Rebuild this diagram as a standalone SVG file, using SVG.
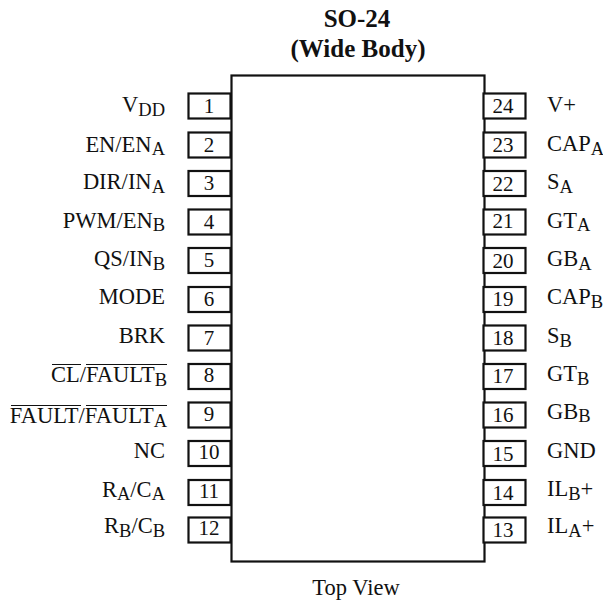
<svg xmlns="http://www.w3.org/2000/svg" width="603" height="603" viewBox="0 0 603 603">
<style>
text{font-family:"Liberation Serif","Times New Roman",serif;font-size:22.500px;fill:#111}
.l{text-anchor:end}.c{text-anchor:middle}
.t{font-weight:bold;font-size:25px;text-anchor:middle}
.n{font-size:21px;text-anchor:middle}
.s{font-size:18.500px}
.b{fill:#fff;stroke:#111;stroke-width:2.2}
.o{stroke:#111;stroke-width:1;fill:none}
</style>
<defs><rect id="p" class="b" x="0" y="0" width="42" height="25"/></defs>
<text class="t" x="357" y="26.500">SO-24</text>
<text class="t" x="358" y="56.500">(Wide Body)</text>
<g id="body"><rect class="b" x="231.500" y="75.500" width="253" height="486"/></g>
<g id="pin1"><use href="#p" x="188.500" y="93.500"/><text class="n" x="209" y="113">1</text><text class="l" x="165" y="112">V<tspan class="s" dy="3.500">DD</tspan></text></g>
<g id="pin2"><use href="#p" x="188.500" y="132.500"/><text class="n" x="209" y="152">2</text><text class="l" x="165" y="151.500">EN/EN<tspan class="s" dy="3.500">A</tspan></text></g>
<g id="pin3"><use href="#p" x="188.500" y="171"/><text class="n" x="209" y="190">3</text><text class="l" x="165" y="189">DIR/IN<tspan class="s" dy="3.500">A</tspan></text></g>
<g id="pin4"><use href="#p" x="188.500" y="209.500"/><text class="n" x="209" y="229">4</text><text class="l" x="165" y="227.500">PWM/EN<tspan class="s" dy="3.500">B</tspan></text></g>
<g id="pin5"><use href="#p" x="188.500" y="248"/><text class="n" x="209" y="267">5</text><text class="l" x="165" y="266">QS/IN<tspan class="s" dy="3.500">B</tspan></text></g>
<g id="pin6"><use href="#p" x="188.500" y="287"/><text class="n" x="209" y="306">6</text><text class="l" x="165" y="304">MODE</text></g>
<g id="pin7"><use href="#p" x="188.500" y="325.500"/><text class="n" x="209" y="344.500">7</text><text class="l" x="165" y="343">BRK</text></g>
<g id="pin8"><use href="#p" x="188.500" y="364"/><text class="n" x="209" y="382">8</text><text class="l" x="167" y="382">CL/FAULT<tspan class="s" dy="3.500">B</tspan></text><path class="o" d="M52 364.500H81M86 364.500H167"/></g>
<g id="pin9"><use href="#p" x="188.500" y="402.500"/><text class="n" x="209" y="421">9</text><text class="l" x="167" y="423">FAULT/FAULT<tspan class="s" dy="3.500">A</tspan></text><path class="o" d="M11 405.500H81M86 405.500H167"/></g>
<g id="pin10"><use href="#p" x="188.500" y="441"/><text class="n" x="209" y="459">10</text><text class="l" x="165" y="458">NC</text></g>
<g id="pin11"><use href="#p" x="188.500" y="480"/><text class="n" x="209" y="497.500">11</text><text class="l" x="165" y="496.500">R<tspan class="s" dy="3.500">A</tspan><tspan dy="-3.500">/C</tspan><tspan class="s" dy="3.500">A</tspan></text></g>
<g id="pin12"><use href="#p" x="188.500" y="517.500"/><text class="n" x="209" y="535">12</text><text class="l" x="165" y="533">R<tspan class="s" dy="3.500">B</tspan><tspan dy="-3.500">/C</tspan><tspan class="s" dy="3.500">B</tspan></text></g>
<g id="pin24"><use href="#p" x="483.500" y="93.500"/><text class="n" x="503" y="113">24</text><text x="547" y="112">V+</text></g>
<g id="pin23"><use href="#p" x="483.500" y="132.500"/><text class="n" x="503" y="152">23</text><text x="547" y="151">CAP<tspan class="s" dy="3.500">A</tspan></text></g>
<g id="pin22"><use href="#p" x="483.500" y="171"/><text class="n" x="503" y="190.500">22</text><text x="547" y="189">S<tspan class="s" dy="3.500">A</tspan></text></g>
<g id="pin21"><use href="#p" x="483.500" y="209.500"/><text class="n" x="503" y="228">21</text><text x="547" y="227.500">GT<tspan class="s" dy="3.500">A</tspan></text></g>
<g id="pin20"><use href="#p" x="483.500" y="248"/><text class="n" x="503" y="268">20</text><text x="547" y="266">GB<tspan class="s" dy="3.500">A</tspan></text></g>
<g id="pin19"><use href="#p" x="483.500" y="287"/><text class="n" x="503" y="306">19</text><text x="547" y="304">CAP<tspan class="s" dy="3.500">B</tspan></text></g>
<g id="pin18"><use href="#p" x="483.500" y="325.500"/><text class="n" x="503" y="345">18</text><text x="547" y="343">S<tspan class="s" dy="3.500">B</tspan></text></g>
<g id="pin17"><use href="#p" x="483.500" y="364"/><text class="n" x="503" y="383">17</text><text x="547" y="381">GT<tspan class="s" dy="3.500">B</tspan></text></g>
<g id="pin16"><use href="#p" x="483.500" y="402.500"/><text class="n" x="503" y="422">16</text><text x="547" y="418.500">GB<tspan class="s" dy="3.500">B</tspan></text></g>
<g id="pin15"><use href="#p" x="483.500" y="441"/><text class="n" x="503" y="461">15</text><text x="547" y="458">GND</text></g>
<g id="pin14"><use href="#p" x="483.500" y="480"/><text class="n" x="503" y="499.500">14</text><text x="547" y="496">IL<tspan class="s" dy="3.500">B</tspan><tspan dy="-3.500">+</tspan></text></g>
<g id="pin13"><use href="#p" x="483.500" y="517.500"/><text class="n" x="503" y="537">13</text><text x="547" y="533">IL<tspan class="s" dy="3.500">A</tspan><tspan dy="-3.500">+</tspan></text></g>
<text class="c" x="356" y="595">Top View</text>
</svg>
